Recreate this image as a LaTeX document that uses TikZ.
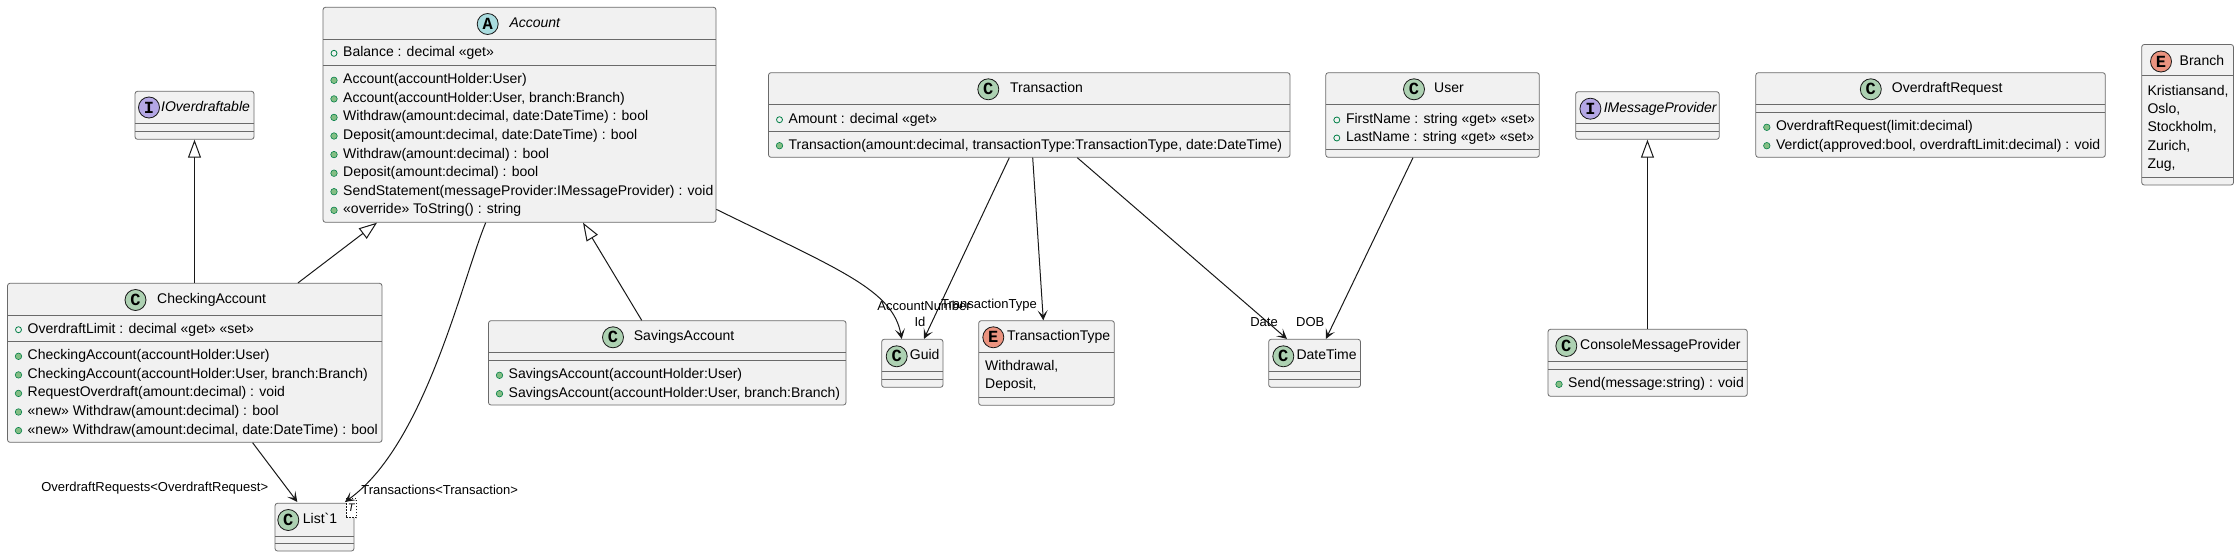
\documentclass[tikz,border=0pt]{standalone}
\usepackage{fontspec}
\setmainfont{Liberation Sans}
\setmonofont{Liberation Mono}
\usetikzlibrary{arrows.meta,fit}
\definecolor{boxc}{HTML}{F1F1F1}
\definecolor{bordc}{HTML}{6A6A6A}
\definecolor{linec}{HTML}{181818}
\definecolor{cC}{HTML}{ADD1B2}
\definecolor{cA}{HTML}{A9DCDF}
\definecolor{cI}{HTML}{B4A7E5}
\definecolor{cE}{HTML}{EB937F}
\definecolor{pubc}{HTML}{038048}
\definecolor{pubf}{HTML}{84BE84}
\newcommand\grv{\XeTeXglyph\numexpr\XeTeXcharglyph"60\relax}
\newcommand\frow[4]{\node[fic] (#1i) at (#2+11,#3) {}; \node[mtxt] (#1) at (#2+20,#3) {#4};}
\newcommand\mrow[4]{\node[mic] (#1i) at (#2+11,#3) {}; \node[mtxt] (#1) at (#2+20,#3) {#4};}
\begin{document}
\begin{tikzpicture}[x=1pt,y=-1pt,
  clsbox/.style={draw=bordc, fill=boxc, line width=0.8pt, rounded corners=2.5pt, inner sep=0pt},
  sep/.style={draw=bordc, line width=0.8pt},
  mtxt/.style={anchor=west, inner sep=0pt, font={\fontsize{14}{16}\selectfont}, text height=10pt, text depth=3pt},
  ttl/.style={mtxt},
  ttli/.style={mtxt, font={\fontsize{14}{16}\selectfont\itshape}},
  cglyph/.style={circle, draw=linec, line width=0.8pt, minimum size=21pt, inner sep=0pt, font={\fontsize{17}{17}\selectfont\ttfamily\bfseries}},
  fic/.style={circle, draw=pubc, line width=0.8pt, minimum size=6pt, inner sep=0pt},
  mic/.style={circle, draw=pubc, fill=pubf, line width=0.6pt, minimum size=6.5pt, inner sep=0pt},
  lbl/.style={inner sep=0pt, font={\fontsize{13}{15}\selectfont}, text height=9.5pt, text depth=2.5pt},
  assoc/.style={draw=linec, line width=1pt, -{Stealth[length=10pt,width=10pt,inset=5pt]}},
  gen/.style={draw=linec, line width=1pt, -{Triangle[open, length=18pt, width=13pt, fill=white]}}
]
\useasboundingbox (0,0) rectangle (2239,557);

% ---------- IOverdraftable
\node[clsbox, fit={(135,91.3) (254,139.3)}] (iov) {};
\draw[sep] (135,123.3) -- (254,123.3) (135,131.3) -- (254,131.3);
\node[cglyph, fill=cI] (iovc) at (149,107.5) {I};
\node[ttli] (iovt) at (161,107.5) {IOverdraftable};

% ---------- Account
\node[clsbox, fit={(323,7.3) (716,222.3)}] (acc) {};
\draw[sep] (323,39.7) -- (716,39.7) (323,65.5) -- (716,65.5);
\node[cglyph, fill=cA] (accc) at (487.7,24) {A};
\node[ttli] (acct) at (509.3,24) {Account};
\frow{accf1}{323}{53.3}{Balance : decimal «get»}
\mrow{accm1}{323}{80.3}{Account(accountHolder:User)}
\mrow{accm2}{323}{98.9}{Account(accountHolder:User, branch:Branch)}
\mrow{accm3}{323}{117.4}{Withdraw(amount:decimal, date:DateTime) : bool}
\mrow{accm4}{323}{136.0}{Deposit(amount:decimal, date:DateTime) : bool}
\mrow{accm5}{323}{154.6}{Withdraw(amount:decimal) : bool}
\mrow{accm6}{323}{173.2}{Deposit(amount:decimal) : bool}
\mrow{accm7}{323}{191.7}{SendStatement(messageProvider:IMessageProvider) : void}
\mrow{accm8}{323}{210.3}{«override» ToString() : string}

% ---------- CheckingAccount
\node[clsbox, fit={(7.5,283.3) (382,442.3)}] (chk) {};
\draw[sep] (7.5,315.3) -- (382,315.3) (7.5,341.3) -- (382,341.3);
\node[cglyph, fill=cC] (chkc) at (135.5,300) {C};
\node[ttl] (chkt) at (157,300) {CheckingAccount};
\frow{chkf1}{7.5}{329.7}{OverdraftLimit : decimal «get» «set»}
\mrow{chkm1}{7.5}{356.3}{CheckingAccount(accountHolder:User)}
\mrow{chkm2}{7.5}{374.9}{CheckingAccount(accountHolder:User, branch:Branch)}
\mrow{chkm3}{7.5}{393.4}{RequestOverdraft(amount:decimal) : void}
\mrow{chkm4}{7.5}{412.0}{«new» Withdraw(amount:decimal) : bool}
\mrow{chkm5}{7.5}{430.6}{«new» Withdraw(amount:decimal, date:DateTime) : bool}

% ---------- SavingsAccount
\node[clsbox, fit={(488.5,320.7) (846,405)}] (sav) {};
\draw[sep] (488.5,352.3) -- (846,352.3) (488.5,360) -- (846,360);
\node[cglyph, fill=cC] (savc) at (613,337.3) {C};
\node[ttl] (savt) at (633.7,337.3) {SavingsAccount};
\mrow{savm1}{488.5}{375.3}{SavingsAccount(accountHolder:User)}
\mrow{savm2}{488.5}{393.7}{SavingsAccount(accountHolder:User, branch:Branch)}

% ---------- List`1
\node[clsbox, fit={(275,503.3) (354,551)}] (lst) {};
\draw[sep] (275,536.7) -- (354,536.7) (275,543.3) -- (354,543.3);
\node[cglyph, fill=cC] (lstc) at (288.3,520) {C};
\node[ttl] (lstt) at (302.7,520) {List\grv 1};
\node[draw=linec, line width=0.6pt, dash pattern=on 1.5pt off 1.5pt, fill=white, inner sep=0pt, fit={(346,498.3) (356.3,517.7)}] (lstT) {};
\node[inner sep=0pt, font={\fontsize{11}{11}\selectfont\itshape}] (lstTt) at (lstT) {T};

% ---------- Guid
\node[clsbox, fit={(881.7,339.3) (943,387.3)}] (gid) {};
\draw[sep] (881.7,371.3) -- (943,371.3) (881.7,379.3) -- (943,379.3);
\node[cglyph, fill=cC] (gidc) at (896.7,356.3) {C};
\node[ttl] (gidt) at (909.7,356.3) {Guid};

% ---------- TransactionType
\node[clsbox, fit={(978.7,320.7) (1114.3,405.3)}] (tty) {};
\draw[sep] (978.7,352.7) -- (1114.3,352.7) (978.7,397.3) -- (1114.3,397.3);
\node[cglyph, fill=cE] (ttyc) at (993.3,337.3) {E};
\node[ttl] (ttyt) at (1007,337.3) {TransactionType};
\node[mtxt] (ttyv1) at (985,367.3) {Withdrawal,};
\node[mtxt] (ttyv2) at (985,385.3) {Deposit,};

% ---------- DateTime
\node[clsbox, fit={(1268.7,339.3) (1360.5,387.3)}] (dtm) {};
\draw[sep] (1268.7,371.3) -- (1360.5,371.3) (1268.7,379.3) -- (1360.5,379.3);
\node[cglyph, fill=cC] (dtmc) at (1283.3,356.3) {C};
\node[ttl] (dtmt) at (1296.3,356.3) {DateTime};

% ---------- Transaction
\node[clsbox, fit={(768.5,72.7) (1290,157.3)}] (trn) {};
\draw[sep] (768.5,104.3) -- (1290,104.3) (768.5,131.3) -- (1290,131.3);
\node[cglyph, fill=cC] (trnc) at (988.3,89.3) {C};
\node[ttl] (trnt) at (1010,89.3) {Transaction};
\frow{trnf1}{768.5}{119.7}{Amount : decimal «get»}
\mrow{trnm1}{768.5}{145.7}{Transaction(amount:decimal, transactionType:TransactionType, date:DateTime)}

% ---------- User
\node[clsbox, fit={(1325.8,72.7) (1539.3,157.3)}] (usr) {};
\draw[sep] (1325.8,104.3) -- (1539.3,104.3) (1325.8,149.3) -- (1539.3,149.3);
\node[cglyph, fill=cC] (usrc) at (1414,89.3) {C};
\node[ttl] (usrt) at (1434,89.3) {User};
\frow{usrf1}{1325.8}{120}{FirstName : string «get» «set»}
\frow{usrf2}{1325.8}{138}{LastName : string «get» «set»}

% ---------- IMessageProvider
\node[clsbox, fit={(1575.7,91.7) (1719.2,139.3)}] (imp) {};
\draw[sep] (1575.7,123.7) -- (1719.2,123.7) (1575.7,131.3) -- (1719.2,131.3);
\node[cglyph, fill=cI] (impc) at (1590.4,108.7) {I};
\node[ttli] (impt) at (1603.6,108.7) {IMessageProvider};

% ---------- ConsoleMessageProvider
\node[clsbox, fit={(1548,329.3) (1747.3,396.3)}] (con) {};
\draw[sep] (1548,361.7) -- (1747.3,361.7) (1548,369.3) -- (1747.3,369.3);
\node[cglyph, fill=cC] (conc) at (1566.3,346) {C};
\node[ttl] (cont) at (1580,346) {ConsoleMessageProvider};
\mrow{conm1}{1548}{384.3}{Send(message:string) : void}

% ---------- OverdraftRequest
\node[clsbox, fit={(1755.8,72.7) (2105.3,157.3)}] (ovr) {};
\draw[sep] (1755.8,104.3) -- (2105.3,104.3) (1755.8,112.3) -- (2105.3,112.3);
\node[cglyph, fill=cC] (ovrc) at (1870.8,89.3) {C};
\node[ttl] (ovrt) at (1891.7,89.3) {OverdraftRequest};
\mrow{ovrm1}{1755.8}{127.3}{OverdraftRequest(limit:decimal)}
\mrow{ovrm2}{1755.8}{145.7}{Verdict(approved:bool, overdraftLimit:decimal) : void}

% ---------- Branch
\node[clsbox, fit={(2141.7,44.5) (2233.5,185)}] (brn) {};
\draw[sep] (2141.7,75.5) -- (2233.5,75.5) (2141.7,177.5) -- (2233.5,177.5);
\node[cglyph, fill=cE] (brnc) at (2161,61.5) {E};
\node[ttl] (brnt) at (2179.5,61.5) {Branch};
\node[mtxt] (brnv1) at (2147.3,91.7) {Kristiansand,};
\node[mtxt] (brnv2) at (2147.3,110) {Oslo,};
\node[mtxt] (brnv3) at (2147.3,128.3) {Stockholm,};
\node[mtxt] (brnv4) at (2147.3,146.7) {Zurich,};
\node[mtxt] (brnv5) at (2147.3,165) {Zug,};

% ---------- connectors
\draw[gen] (chk.north -| iov.south) -- (iov.south);
\draw[gen] ([xshift=103.25pt]chk.north) -- ([xshift=-142.5pt]acc.south);
\draw[gen] ([xshift=-25.55pt]sav.north) -- ([xshift=63.5pt]acc.south);
\draw[gen] (con.north -| imp.south) -- (imp.south);
\draw[assoc] ([xshift=57.85pt]chk.south) -- ([xshift=-17.2pt,yshift=1pt]lst.north);
\draw[assoc] ([xshift=-33.8pt]acc.south) .. controls (462,280) and (425,445) .. ([xshift=30.5pt,yshift=1pt]lst.north);
\draw[assoc] ([yshift=13.3pt]acc.south east) .. controls (840,270) and (893,290) .. ([xshift=-10.65pt]gid.north);
\draw[assoc] ([xshift=-19.95pt]trn.south) -- ([xshift=11.65pt]gid.north);
\draw[assoc] ([xshift=3.45pt]trn.south) -- ([xshift=-3.2pt]tty.north);
\draw[assoc] ([xshift=48.05pt]trn.south) -- ([xshift=-27.65pt]dtm.north);
\draw[assoc] ([xshift=-19.55pt]usr.south) -- ([xshift=11.35pt]dtm.north);

% ---------- connector labels
\node[lbl] (l1) at (154.7,487.7) {OverdraftRequests<OverdraftRequest>};
\node[lbl] (l2) at (439.7,490.7) {Transactions<Transaction>};
\node[lbl] (l3) at (924,307.3) {AccountNumber};
\node[lbl] (l4) at (920,323.3) {Id};
\node[lbl] (l5) at (989,304.5) {TransactionType};
\node[lbl] (l6) at (1264,323.3) {Date};
\node[lbl] (l7) at (1310.3,323.3) {DOB};
\end{tikzpicture}
\end{document}
